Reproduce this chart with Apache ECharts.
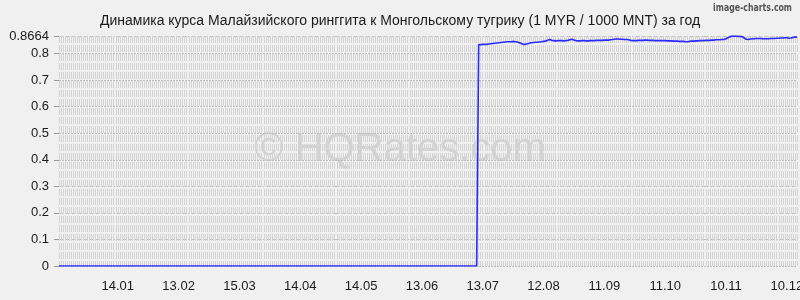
<!DOCTYPE html>
<html>
<head>
<meta charset="utf-8">
<script src="https://cdn.jsdelivr.net/npm/echarts@6/dist/echarts.min.js"></script>
<style>
html,body{margin:0;padding:0;background:#f0f0f0;}
#c{width:800px;height:300px;}
</style>
</head>
<body>
<div id="c"></div>
<script>
// ---- data ----
const titleText = 'Динамика курса Малайзийского ринггита к Монгольскому тугрику (1 MYR / 1000 MNT) за год';
const startDate = '2014-12-16';
const dayCount = 365;
const labelFirstIndex = 29;   // 14.01
const labelStep = 30;         // labels every 30 days
const yMax = 0.8664;
const yInterval = 0.1;

// values before the jump (daily)
const valuesBefore = [
0,0,0,0,0,0,0,0,0,0,0,0,0,0,0,0,0,0,0,0,0,0,0,0,0,0,0,0,0,0,
0,0,0,0,0,0,0,0,0,0,0,0,0,0,0,0,0,0,0,0,0,0,0,0,0,0,0,0,0,0,
0,0,0,0,0,0,0,0,0,0,0,0,0,0,0,0,0,0,0,0,0,0,0,0,0,0,0,0,0,0,
0,0,0,0,0,0,0,0,0,0,0,0,0,0,0,0,0,0,0,0,0,0,0,0,0,0,0,0,0,0,
0,0,0,0,0,0,0,0,0,0,0,0,0,0,0,0,0,0,0,0,0,0,0,0,0,0,0,0,0,0,
0,0,0,0,0,0,0,0,0,0,0,0,0,0,0,0,0,0,0,0,0,0,0,0,0,0,0,0,0,0,
0,0,0,0,0,0,0,0,0,0,0,0,0,0,0,0,0,0,0,0,0,0,0,0,0,0,0
];
// values after the jump (daily)
const valuesAfter = [
0.834,0.834,0.835,0.835,0.835,0.836,0.837,0.838,0.839,0.840,
0.841,0.842,0.843,0.844,0.845,0.845,0.845,0.846,0.845,0.844,
0.841,0.838,0.835,0.835,0.837,0.839,0.841,0.842,0.843,0.843,
0.844,0.845,0.846,0.847,0.850,0.853,0.850,0.849,0.848,0.849,
0.849,0.849,0.848,0.849,0.850,0.852,0.854,0.851,0.849,0.848,
0.848,0.849,0.849,0.848,0.848,0.849,0.849,0.849,0.850,0.850,
0.850,0.850,0.851,0.851,0.851,0.852,0.853,0.854,0.855,0.855,
0.854,0.854,0.853,0.853,0.852,0.850,0.849,0.849,0.849,0.850,
0.850,0.850,0.851,0.851,0.850,0.850,0.850,0.849,0.849,0.849,
0.849,0.849,0.849,0.848,0.848,0.848,0.847,0.847,0.847,0.846,
0.846,0.846,0.845,0.845,0.846,0.847,0.847,0.848,0.848,0.849,
0.849,0.849,0.850,0.850,0.850,0.851,0.851,0.852,0.852,0.852,
0.853,0.853,0.856,0.860,0.864,0.866,0.8664,0.866,0.865,0.865,
0.864,0.859,0.854,0.853,0.855,0.856,0.856,0.857,0.857,0.857,
0.856,0.856,0.856,0.856,0.857,0.857,0.857,0.858,0.858,0.859,
0.859,0.860,0.860,0.858,0.859,0.861,0.862,0.862
];

// ---- build ----
const categories = [];
(function(){
  const d = new Date(startDate + 'T00:00:00Z');
  for (let i = 0; i < dayCount; i++) {
    const dd = String(d.getUTCDate()).padStart(2,'0');
    const mm = String(d.getUTCMonth()+1).padStart(2,'0');
    categories.push(dd + '.' + mm);
    d.setUTCDate(d.getUTCDate()+1);
  }
})();
const values = valuesBefore.concat(valuesAfter);

const chart = echarts.init(document.getElementById('c'), null, {renderer:'canvas'});
const font = 'Liberation Sans, Arial, sans-serif';
chart.setOption({
  backgroundColor: '#f0f0f0',
  animation: false,
  title: {
    text: titleText,
    left: 'center',
    top: 9,
    textStyle: {fontFamily: font, fontSize: 14, fontWeight: 'normal', color: '#1a1a1a'}
  },
  graphic: [
    {
      type: 'text', x: 792, y: 3, scaleX: 0.78,
      style: {text: 'image-charts.com', textAlign: 'right', font: 'bold 10px "DejaVu Sans", sans-serif', fill: '#555'}
    },
    {
      type: 'text', left: 'center', top: 130, z: 0,
      style: {text: '© HQRates.com', font: '40px ' + font, fill: '#d2d2d2'}
    }
  ],
  grid: {left: 59, right: 3, top: 36, bottom: 34, containLabel: false, outerBoundsMode: 'none'},
  xAxis: {
    type: 'category',
    data: categories,
    boundaryGap: false,
    axisLine: {show: false},
    axisTick: {show: false},
    axisLabel: {
      interval: function(i){ return i >= labelFirstIndex && (i - labelFirstIndex) % labelStep === 0; },
      margin: 14,
      hideOverlap: false,
      fontFamily: font, fontSize: 13, color: '#1a1a1a'
    },
    splitLine: {
      show: true,
      interval: 0,
      lineStyle: {color: '#d4d4d4', width: 1, type: [7, 2]}
    }
  },
  yAxis: {
    type: 'value',
    min: 0,
    max: yMax,
    interval: yInterval,
    axisLine: {show: false},
    axisTick: {show: true, length: 5, lineStyle: {color: '#999'}},
    axisLabel: {
      margin: 10,
      fontFamily: font, fontSize: 13, color: '#1a1a1a',
      formatter: function(v){ return String(Math.round(v*10000)/10000); }
    },
    splitLine: {show: true, lineStyle: {color: '#bdbdbd', width: 1, type: [2, 1]}}
  },
  series: [{
    type: 'line',
    data: values,
    showSymbol: false,
    symbol: 'none',
    z: 5,
    lineStyle: {color: '#2a2aff', width: 1.6},
    emphasis: {disabled: true}
  }]
});
</script>
</body>
</html>
